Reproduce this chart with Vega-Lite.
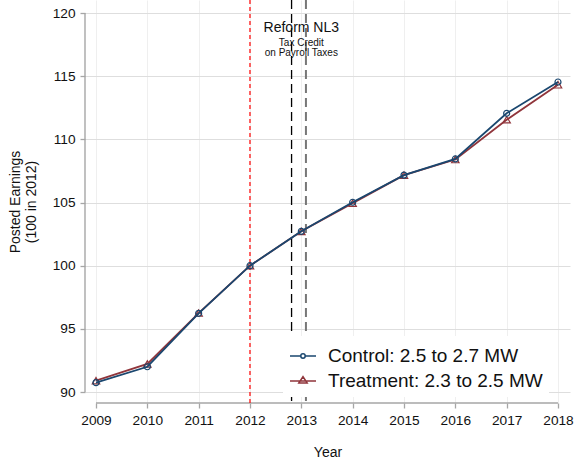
{
  "$schema": "https://vega.github.io/schema/vega-lite/v6.json",
  "width": 485,
  "height": 403,
  "autosize": {"type": "none"},
  "padding": {"left": 85, "top": 0, "right": 5, "bottom": 60},
  "background": "white",
  "config": {
    "font": "Liberation Sans",
    "view": {"stroke": null},
    "axis": {
      "labelFont": "Liberation Sans",
      "labelFontSize": 13.7,
      "labelColor": "#111",
      "titleFont": "Liberation Sans",
      "titleFontSize": 14,
      "titleFontWeight": "normal",
      "titleColor": "#111",
      "domain": false,
      "tickColor": "#a6a6a6",
      "tickSize": 5,
      "tickWidth": 1.3
    }
  },
  "datasets": {
    "series": [
      {"year": 2009, "group": "Control: 2.5 to 2.7 MW", "value": 90.74},
      {"year": 2010, "group": "Control: 2.5 to 2.7 MW", "value": 92.0},
      {"year": 2011, "group": "Control: 2.5 to 2.7 MW", "value": 96.23},
      {"year": 2012, "group": "Control: 2.5 to 2.7 MW", "value": 100.0},
      {"year": 2013, "group": "Control: 2.5 to 2.7 MW", "value": 102.72},
      {"year": 2014, "group": "Control: 2.5 to 2.7 MW", "value": 105.02},
      {"year": 2015, "group": "Control: 2.5 to 2.7 MW", "value": 107.17},
      {"year": 2016, "group": "Control: 2.5 to 2.7 MW", "value": 108.45},
      {"year": 2017, "group": "Control: 2.5 to 2.7 MW", "value": 112.06},
      {"year": 2018, "group": "Control: 2.5 to 2.7 MW", "value": 114.54},
      {"year": 2009, "group": "Treatment: 2.3 to 2.5 MW", "value": 90.9},
      {"year": 2010, "group": "Treatment: 2.3 to 2.5 MW", "value": 92.22},
      {"year": 2011, "group": "Treatment: 2.3 to 2.5 MW", "value": 96.25},
      {"year": 2012, "group": "Treatment: 2.3 to 2.5 MW", "value": 100.0},
      {"year": 2013, "group": "Treatment: 2.3 to 2.5 MW", "value": 102.72},
      {"year": 2014, "group": "Treatment: 2.3 to 2.5 MW", "value": 104.95},
      {"year": 2015, "group": "Treatment: 2.3 to 2.5 MW", "value": 107.17},
      {"year": 2016, "group": "Treatment: 2.3 to 2.5 MW", "value": 108.4},
      {"year": 2017, "group": "Treatment: 2.3 to 2.5 MW", "value": 111.55},
      {"year": 2018, "group": "Treatment: 2.3 to 2.5 MW", "value": 114.32}
    ],
    "one": [{}],
    "title_note": [
      {"year": 2013, "value": 118.52, "label": "Reform NL3"}
    ],
    "sub_note": [
      {"year": 2013, "value": 117.41, "label": "Tax Credit"},
      {"year": 2013, "value": 116.63, "label": "on Payroll Taxes"}
    ]
  },
  "layer": [
    {
      "data": {"name": "one"},
      "mark": {"type": "rule", "color": "#a6a6a6", "strokeWidth": 1.4},
      "encoding": {
        "x": {"datum": 2009, "type": "quantitative"},
        "x2": {"datum": 2018},
        "y": {"datum": 89.13, "type": "quantitative"}
      }
    },
    {
      "data": {"name": "one"},
      "mark": {"type": "rule", "color": "#a6a6a6", "strokeWidth": 1.4},
      "encoding": {
        "x": {"datum": 2008.786, "type": "quantitative"},
        "y": {"datum": 90, "type": "quantitative"},
        "y2": {"datum": 120}
      }
    },
    {
      "data": {"name": "one"},
      "mark": {"type": "rule", "color": "#ff0000", "strokeWidth": 1.2, "strokeDash": [4, 3]},
      "encoding": {"x": {"datum": 2012, "type": "quantitative"}}
    },
    {
      "data": {"name": "one"},
      "mark": {"type": "rule", "color": "#000000", "strokeWidth": 1.3, "strokeDash": [9, 5]},
      "encoding": {"x": {"datum": 2012.81, "type": "quantitative"}}
    },
    {
      "data": {"name": "one"},
      "mark": {"type": "rule", "color": "#777777", "strokeWidth": 2, "strokeDash": [9, 5]},
      "encoding": {"x": {"datum": 2013.09, "type": "quantitative"}}
    },
    {
      "data": {"name": "series"},
      "encoding": {
        "x": {
          "field": "year",
          "type": "quantitative",
          "scale": {"domain": [2008.786, 2018.234], "nice": false, "zero": false},
          "axis": {
            "values": [2009, 2010, 2011, 2012, 2013, 2014, 2015, 2016, 2017, 2018],
            "format": "d",
            "grid": true,
            "gridColor": "#efefef",
            "gridWidth": 1,
            "labelPadding": 5,
            "labelFlush": false,
            "title": "Year",
            "titlePadding": 19
          }
        },
        "y": {
          "field": "value",
          "type": "quantitative",
          "scale": {"domain": [89.13, 121.03], "nice": false, "zero": false},
          "axis": {
            "values": [90, 95, 100, 105, 110, 115, 120],
            "grid": true,
            "gridColor": "#dedede",
            "gridWidth": 1.2,
            "labelPadding": 5,
            "labelFlush": false,
            "title": ["Posted Earnings", "(100 in 2012)"],
            "titlePadding": 14
          }
        }
      },
      "layer": [
        {
          "transform": [{"filter": "datum.group === 'Treatment: 2.3 to 2.5 MW'"}],
          "mark": {"type": "line", "strokeWidth": 1.8},
          "encoding": {
            "color": {
              "field": "group",
              "type": "nominal",
              "scale": {
                "domain": ["Control: 2.5 to 2.7 MW", "Treatment: 2.3 to 2.5 MW"],
                "range": ["#1a476f", "#90353b"]
              },
              "legend": {
                "title": null,
                "orient": "none",
                "legendX": 198,
                "legendY": 336,
                "fillColor": "white",
                "padding": 6,
                "symbolSize": 676,
                "symbolStrokeWidth": 1.5,
                "symbolFillColor": "transparent",
                "symbolOffset": 0,
                "labelOffset": 11,
                "labelFont": "Liberation Sans",
                "labelFontSize": 19,
                "labelColor": "#111",
                "labelLimit": 400,
                "rowPadding": 1,
                "encode": {
                  "symbols": {
                    "update": {
                      "shape": {"signal": "datum.value === 'Control: 2.5 to 2.7 MW' ? 'M-1,0H-0.17M0.17,0H1M-0.17,0A0.17,0.17 0 1,0 0.17,0A0.17,0.17 0 1,0 -0.17,0' : 'M-1,0H1M-0.32,0.15L0,-0.33L0.32,0.15Z'"}
                    }
                  }
                }
              }
            }
          }
        },
        {
          "transform": [{"filter": "datum.group === 'Treatment: 2.3 to 2.5 MW'"}],
          "mark": {"type": "point", "shape": "triangle-up", "size": 55, "filled": false, "strokeWidth": 1.2, "opacity": 1, "color": "#90353b"}
        },
        {
          "transform": [{"filter": "datum.group === 'Control: 2.5 to 2.7 MW'"}],
          "mark": {"type": "line", "strokeWidth": 1.8},
          "encoding": {
            "color": {
              "field": "group",
              "type": "nominal",
              "scale": {
                "domain": ["Control: 2.5 to 2.7 MW", "Treatment: 2.3 to 2.5 MW"],
                "range": ["#1a476f", "#90353b"]
              },
              "legend": {
                "title": null,
                "orient": "none",
                "legendX": 198,
                "legendY": 336,
                "fillColor": "white",
                "padding": 6,
                "symbolSize": 676,
                "symbolStrokeWidth": 1.5,
                "symbolFillColor": "transparent",
                "symbolOffset": 0,
                "labelOffset": 11,
                "labelFont": "Liberation Sans",
                "labelFontSize": 19,
                "labelColor": "#111",
                "labelLimit": 400,
                "rowPadding": 1,
                "encode": {
                  "symbols": {
                    "update": {
                      "shape": {"signal": "datum.value === 'Control: 2.5 to 2.7 MW' ? 'M-1,0H-0.17M0.17,0H1M-0.17,0A0.17,0.17 0 1,0 0.17,0A0.17,0.17 0 1,0 -0.17,0' : 'M-1,0H1M-0.32,0.15L0,-0.33L0.32,0.15Z'"}
                    }
                  }
                }
              }
            }
          }
        },
        {
          "transform": [{"filter": "datum.group === 'Control: 2.5 to 2.7 MW'"}],
          "mark": {"type": "point", "shape": "circle", "size": 36, "filled": false, "strokeWidth": 1.2, "opacity": 1, "color": "#1a476f"}
        }
      ]
    },
    {
      "data": {"name": "title_note"},
      "mark": {"type": "text", "fontSize": 14, "baseline": "alphabetic", "align": "center", "color": "#111", "font": "Liberation Sans"},
      "encoding": {
        "x": {"field": "year", "type": "quantitative"},
        "y": {"field": "value", "type": "quantitative"},
        "text": {"field": "label"}
      }
    },
    {
      "data": {"name": "sub_note"},
      "mark": {"type": "text", "fontSize": 10, "baseline": "alphabetic", "align": "center", "color": "#111", "font": "Liberation Sans"},
      "encoding": {
        "x": {"field": "year", "type": "quantitative"},
        "y": {"field": "value", "type": "quantitative"},
        "text": {"field": "label"}
      }
    }
  ]
}
